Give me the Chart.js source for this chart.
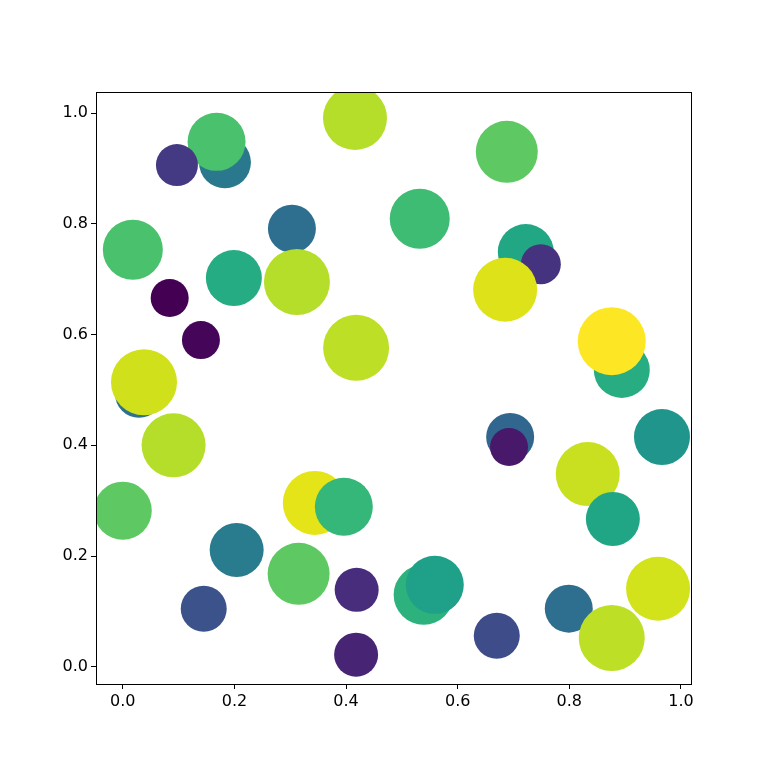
<!DOCTYPE html><html><head><script src="https://cdn.jsdelivr.net/npm/chart.js"></script>
<style>body{margin:0;background:#fff}</style></head><body>
<canvas id="c" width="768" height="768" style="width:768px;height:768px"></canvas>
<script>
const xs=[0.416,0.688,0.183,0.168,0.097,0.532,0.303,0.018,0.722,0.749,0.199,0.312,0.685,0.084,0.140,0.894,0.876,0.418,0.029,0.038,0.091,0.694,0.692,0.966,0.833,0.0,0.344,0.396,0.878,0.204,0.315,0.419,0.539,0.559,0.959,0.145,0.799,0.876,0.670,0.418];
const ys=[0.991,0.930,0.911,0.948,0.906,0.809,0.791,0.753,0.749,0.727,0.702,0.695,0.681,0.666,0.590,0.536,0.588,0.576,0.493,0.514,0.400,0.415,0.397,0.415,0.348,0.282,0.296,0.289,0.267,0.211,0.168,0.139,0.130,0.148,0.141,0.105,0.105,0.052,0.056,0.022];
const sizes=[32,31,26,29,21,30,24,30,28,20,28,33,32,19,19,28,34,33,24,33,32,24,19,28,32,29,32,29,27,27,31,22,30,29,32,23,24,33,23,22];
const colors=['#b5de2b','#5ec962','#2a788e','#4ac16d','#443983','#3fbc73','#2e6e8e','#4ac16d','#22a785','#46337f','#25ac82','#b5de2b','#dde318','#440154','#450559','#27ad81','#fde725','#bddf26','#2c728e','#d0e11c','#b5de2b','#31668e','#48186a','#1f958b','#c8e020','#5ec962','#e5e419','#35b779','#21a685','#297b8e','#5ec962','#472d7b','#2db27d','#1fa088','#d2e21b','#3b528b','#2e6e8e','#bddf26','#3e4c8a','#482475'];
const pts=xs.map((x,i)=>({x,y:ys[i]}));
const frame={id:'frame',afterDraw(c){const a=c.chartArea,g=c.ctx;g.save();g.strokeStyle='#000';g.lineWidth=1;g.strokeRect(a.left+.5,a.top+.5,a.right-a.left,a.bottom-a.top);g.restore();}};
const tk={color:'#000',font:{family:'DejaVu Sans',size:16},includeBounds:false,stepSize:0.2,callback:v=>v.toFixed(1)};
const gr={drawOnChartArea:false,drawTicks:true,tickLength:5,color:'#000'};
new Chart(document.getElementById('c'),{type:'scatter',data:{datasets:[{data:pts,pointRadius:sizes,pointHoverRadius:sizes,backgroundColor:colors,borderWidth:0}]},
options:{responsive:false,devicePixelRatio:1,animation:false,maintainAspectRatio:false,
layout:{padding:{left:0,right:77,top:92,bottom:0}},
plugins:{legend:{display:false},tooltip:{enabled:false}},
scales:{x:{type:'linear',min:-0.048,max:1.018,ticks:tk,grid:gr,border:{color:'#000'},afterFit:s=>{s.height=84}},
y:{type:'linear',min:-0.031,max:1.038,ticks:tk,grid:gr,border:{color:'#000'},afterFit:s=>{s.width=96}}}},plugins:[frame]});
</script></body></html>
